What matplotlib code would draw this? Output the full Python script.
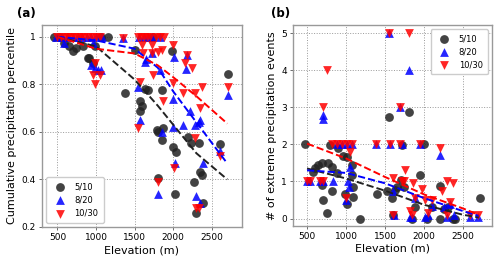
import matplotlib
matplotlib.use('Agg')
import matplotlib.pyplot as plt
import numpy as np

# ---- panel (a): cumulative precipitation percentile ----
black_a_x = [460, 520, 590, 650, 695, 745, 825, 890, 915, 955, 980, 1070, 1150, 1370, 1500, 1565, 1565, 1590, 1630, 1670,
             1735, 1785, 1800, 1800, 1850, 1860, 1865, 1980, 2000, 2020, 2030, 2185, 2225, 2270, 2300, 2330, 2345, 2370, 2380, 2600,
             2710]
black_a_y = [1.0, 1.0, 0.975, 0.96, 0.94, 0.955, 0.96, 0.91, 0.91, 0.89, 0.96, 1.0, 1.0, 0.765, 0.945, 0.73, 0.69, 0.71, 0.78, 0.775,
             1.0, 0.607, 0.60, 0.405, 0.775, 0.565, 0.615, 0.94, 0.535, 0.34, 0.515, 0.58, 0.555, 0.39, 0.26, 0.555, 0.43, 0.42, 0.30, 0.55,
             0.843]

blue_a_x = [480, 560, 620, 700, 760, 820, 880, 940, 1000, 1080, 1345, 1560, 1620, 1670, 1720, 1830,
            590, 955, 940, 980, 1020, 1070, 1540, 1565, 1630, 1650, 1720, 1825, 2005, 2175, 2160, 2000, 2215,
            2345, 2710, 1850, 2020, 1800, 2120, 2280, 2330, 2380, 2300, 2600, 2345, 2000]
blue_a_y = [1.0, 1.0, 1.0, 1.0, 1.0, 1.0, 1.0, 1.0, 1.0, 1.0, 0.995, 1.0, 1.0, 1.0, 1.0, 1.0,
            0.975, 0.975, 0.88, 0.87, 0.86, 0.86, 0.79, 0.65, 0.895, 0.905, 0.93, 0.86, 0.915, 0.925, 0.865, 0.74, 0.69,
            0.65, 0.755, 0.60, 0.47, 0.34, 0.63, 0.63, 0.64, 0.47, 0.33, 0.52, 0.30, 0.62]

red_a_x = [500, 540, 600, 640, 680, 720, 760, 800, 850, 900, 950, 1000, 1050, 1345, 1540, 1580, 1620, 1660, 1700, 1780, 1830, 1880,
           980, 955, 980, 1050, 1590, 1610, 1720, 1850, 1565, 2000, 1865, 1800, 1720, 2150, 2240, 1735, 2000, 2120, 2280,
           2370, 2345, 2710, 2280, 2010, 1800, 2600, 2300, 2330, 1540, 2175]
red_a_y = [1.0, 1.0, 1.0, 1.0, 1.0, 1.0, 1.0, 1.0, 1.0, 1.0, 1.0, 1.0, 1.0, 0.995, 1.0, 1.0, 1.0, 1.0, 1.0, 1.0, 1.0, 1.0,
           0.89, 0.84, 0.80, 0.84, 0.965, 0.93, 0.93, 0.945, 0.81, 0.965, 0.73, 0.935, 0.965, 0.89, 0.87, 0.84, 0.805, 0.765, 0.765,
           0.79, 0.70, 0.79, 0.575, 0.45, 0.39, 0.50, 0.28, 0.28, 0.615, 0.925]

# dashed fit curves
fit_a_x = [500, 1000, 1500, 1800, 2000, 2300, 2700]
fit_a_black = [1.0, 0.96, 0.82, 0.71, 0.63, 0.51, 0.40]
fit_a_blue = [1.0, 0.985, 0.95, 0.87, 0.77, 0.64, 0.467]
fit_a_red = [1.0, 0.95, 0.93, 0.88, 0.83, 0.75, 0.635]

# ---- panel (b): number of extreme precipitation events ----
black_b_x = [470, 580, 600, 640, 690, 690, 705, 756, 770, 795, 820, 820, 885, 900, 960, 990, 1013, 1013, 1077, 1077,
             1090, 1090, 1180, 1400, 1530, 1550, 1590, 1600, 1630, 1650, 1700, 1720, 1740, 1810, 1850, 1880, 1950, 2000, 2040, 2100,
             2200, 2200, 2250, 2300, 2370, 2400, 2720]
black_b_y = [2.0, 1.26, 1.37, 1.45, 1.5, 0.91, 0.51, 0.16, 1.5, 1.98, 1.4, 0.75, 1.23, 1.9, 1.69, 0.65, 1.67, 0.38, 1.45, 1.18,
             0.59, 0.86, 0.0, 0.65, 0.73, 2.75, 0.56, 0.1, 0.78, 0.84, 1.05, 1.98, 0.84, 2.88, 0.0, 0.3, 1.17, 2.0, 0.0, 0.3,
             0.87, 0.0, 0.25, 0.3, 0.0, 0.0, 0.54]

blue_b_x = [500, 540, 665, 705, 705, 705, 835, 885, 950, 1013, 1025, 1050, 1000, 1080, 1385, 1550, 1560, 1620, 1690, 1720,
            1810, 1850, 1880, 1950, 2010, 2050, 2200, 2290, 2330, 2380, 2590, 2690, 1600, 1820, 2100, 2250, 1040]
blue_b_y = [1.0, 1.0, 1.0, 1.0, 2.8, 2.68, 1.0, 2.0, 2.0, 2.0, 1.0, 1.4, 0.5, 2.0, 2.0, 5.0, 2.0, 0.1, 3.0, 2.0,
            4.0, 0.05, 0.55, 2.0, 0.05, 0.1, 1.7, 0.05, 0.4, 0.1, 0.05, 0.05, 0.75, 0.05, 0.35, 0.3, 0.85]

red_b_x = [500, 540, 665, 705, 756, 705, 820, 885, 950, 1013, 1050, 1077, 1000, 1385, 1550, 1560, 1690, 1690, 1720, 1760,
           1810, 1600, 1740, 1860, 1600, 1820, 1850, 1880, 1950, 2010, 2050, 2200, 2230, 2290, 2370, 2290, 2330, 2100, 2590, 2690,
           1970]
red_b_y = [1.0, 1.0, 1.0, 3.0, 4.0, 1.0, 2.0, 2.0, 2.0, 2.0, 1.8, 2.0, 0.55, 2.0, 5.0, 2.0, 3.0, 2.0, 1.02, 1.32,
           5.0, 1.1, 1.0, 0.97, 0.1, 0.2, 0.1, 0.55, 2.0, 0.5, 0.15, 1.9, 0.73, 1.0, 0.97, 0.1, 0.45, 0.5, 0.1, 0.1,
           0.8]

fit_b_x = [500, 1000, 1500, 2000, 2500, 2700]
fit_b_black = [1.35, 1.08, 0.75, 0.37, 0.10, 0.03]
fit_b_blue = [1.30, 1.23, 0.95, 0.55, 0.20, 0.07]
fit_b_red = [2.02, 1.62, 1.12, 0.65, 0.27, 0.10]

labels = ['5/10', '8/20', '10/30']
colors = ['#222222', '#0000ff', '#ff0000']
markers = ['o', '^', 'v']

fig = plt.figure(figsize=(5, 2.6), dpi=100)
ax1 = fig.add_axes([0.084, 0.127, 0.400, 0.777])
ax2 = fig.add_axes([0.586, 0.131, 0.398, 0.773])


def style(ax):
    ax.grid(True, linestyle=':', color='#999999', linewidth=0.7)
    ax.set_axisbelow(True)
    for s in ax.spines.values():
        s.set_color('#999999')
        s.set_linewidth(1.0)
    ax.tick_params(labelsize=6.5, length=2.5, width=0.6, color='#555555', pad=2)
    ax.set_xticks([500, 1000, 1500, 2000, 2500])
    ax.set_xlabel('Elevation (m)', fontsize=8, labelpad=2)


# panel (a)
series_a = [(black_a_x, black_a_y), (blue_a_x, blue_a_y), (red_a_x, red_a_y)]
for (x, y), c, m, lab in zip(series_a, colors, markers, labels):
    ax1.scatter(x, y, s=40, c=c, marker=m, alpha=0.85, linewidths=0, label=lab, zorder=3)
for fy, c in zip([fit_a_black, fit_a_blue, fit_a_red], colors):
    ax1.plot(fit_a_x, fy, '--', color=c, linewidth=1.4, zorder=4)
style(ax1)
ax1.set_xlim(300, 2890)
ax1.set_ylim(0.2, 1.05)
ax1.set_yticks([0.2, 0.4, 0.6, 0.8, 1.0])
ax1.set_yticklabels(['0.2', '0.4', '0.6', '0.8', '1'])
ax1.set_ylabel('Cumulative precipitation percentile', fontsize=8, labelpad=3)
ax1.legend(loc='lower left', fontsize=6, markerscale=1.0, handletextpad=0.8, borderpad=0.6, labelspacing=0.5,
           framealpha=1, edgecolor='#cccccc')

# panel (b)
series_b = [(black_b_x, black_b_y), (blue_b_x, blue_b_y), (red_b_x, red_b_y)]
for (x, y), c, m, lab in zip(series_b, colors, markers, labels):
    ax2.scatter(x, y, s=40, c=c, marker=m, alpha=0.85, linewidths=0, label=lab, zorder=3)
for fy, c in zip([fit_b_black, fit_b_blue, fit_b_red], colors):
    ax2.plot(fit_b_x, fy, '--', color=c, linewidth=1.4, zorder=4)
style(ax2)
ax2.set_xlim(320, 2870)
ax2.set_ylim(-0.2, 5.22)
ax2.set_yticks([0, 1, 2, 3, 4, 5])
ax2.set_ylabel('# of extreme precipitation events', fontsize=8, labelpad=3)
ax2.legend(loc='upper right', fontsize=6, markerscale=1.0, handletextpad=0.8, borderpad=0.6, labelspacing=0.5,
           framealpha=1, edgecolor='#cccccc')

fig.text(0.034, 0.95, '(a)', fontsize=8.5, fontweight='bold', va='center')
fig.text(0.542, 0.95, '(b)', fontsize=8.5, fontweight='bold', va='center')

fig.savefig('out.png', dpi=100)
